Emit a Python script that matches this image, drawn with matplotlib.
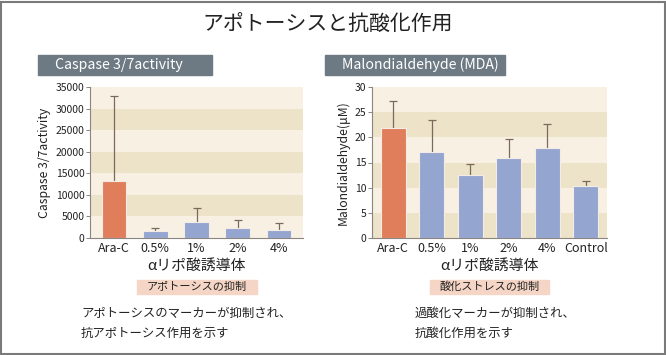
import matplotlib
matplotlib.use("Agg")
import matplotlib.pyplot as plt
from matplotlib.patches import Rectangle

plt.rcParams['font.family'] = ['Noto Sans CJK JP', 'DejaVu Sans']

# data
caspase_labels = ["Ara-C", "0.5%", "1%", "2%", "4%"]
caspase_values = [13200, 1700, 3700, 2400, 1900]
caspase_err = [19600, 600, 3200, 1700, 1500]

mda_labels = ["Ara-C", "0.5%", "1%", "2%", "4%", "Control"]
mda_values = [21.8, 17.0, 12.6, 15.8, 17.8, 10.3]
mda_err = [5.5, 6.5, 2.2, 3.8, 4.9, 1.1]

ORANGE = '#e07e5c'
BLUE = '#94a6d0'
LIGHT = '#f8f1e3'
DARK = '#ede3c8'
ERR = '#7b6a5c'
AXC = '#8a8580'
TXT = '#222222'

W, H = 666, 355
fig = plt.figure(figsize=(W / 100, H / 100), dpi=100)


def px_axes(x0, y0, x1, y1):
    """axes from pixel box (top-left origin)"""
    return fig.add_axes([x0 / W, 1 - y1 / H, (x1 - x0) / W, (y1 - y0) / H])


def draw_bars(ax, labels, values, errs, ymax, step, xlim, width, dark_first):
    n = len(values)
    # striped background
    k = 0
    y = 0
    while y < ymax:
        dark = (k % 2 == 0) == dark_first
        ax.axhspan(y, y + step, color=DARK if dark else LIGHT, lw=0, zorder=0)
        y += step
        k += 1
    colors = [ORANGE] + [BLUE] * (n - 1)
    x = list(range(n))
    ax.bar(x, values, width=width, color=colors, edgecolor='#f4ece4',
           linewidth=0.8, zorder=2)
    # upper error bars only, cap on top
    ax.errorbar(x, values, yerr=[[0] * n, errs], fmt='none', ecolor=ERR,
                elinewidth=0.9, capsize=0, zorder=1.5)
    tops = [v + e for v, e in zip(values, errs)]
    ax.plot(x, tops, ls='none', marker='_', ms=6, mew=0.9, color=ERR,
            zorder=3, clip_on=False)
    ax.set_xlim(*xlim)
    ax.set_ylim(0, ymax)
    ax.set_xticks(x)
    ax.set_xticklabels(labels, fontsize=9, color=TXT)
    ax.tick_params(axis='x', length=0, pad=3)
    ax.tick_params(axis='y', labelsize=7.5, length=3, width=0.7, color=AXC,
                   pad=1, labelcolor=TXT)
    for s in ['top', 'right']:
        ax.spines[s].set_visible(False)
    for s in ['left', 'bottom']:
        ax.spines[s].set_color(AXC)
        ax.spines[s].set_linewidth(0.8)
    ax.set_xlabel('αリポ酸誘導体', fontsize=10.7, labelpad=3, color=TXT)


ax1 = px_axes(90, 87, 303, 238)
draw_bars(ax1, caspase_labels, caspase_values, caspase_err, 35000, 5000,
          (-0.58, 4.58), 0.6, False)
ax1.set_yticks(range(0, 35001, 5000))
ax1.set_ylabel('Caspase 3/7activity', fontsize=8.8, labelpad=3, color=TXT)

ax2 = px_axes(372, 87, 607, 238)
draw_bars(ax2, mda_labels, mda_values, mda_err, 30, 5,
          (-0.55, 5.55), 0.64, True)
ax2.set_yticks(range(0, 31, 5))
ax2.set_ylabel('Malondialdehyde(μM)', fontsize=8.8, labelpad=4, color=TXT)

# frame around the whole figure
fig.patches.append(Rectangle((0.5 / W, 1.5 / H), (W - 1.5) / W, (H - 3) / H,
                             transform=fig.transFigure, fill=False,
                             edgecolor='#7a7a7a', linewidth=1.5))

fig.text(328 / W, 1 - 25 / H, 'アポトーシスと抗酸化作用', fontsize=15,
         ha='center', va='center', color=TXT)


def header(x0, x1, text):
    fig.patches.append(Rectangle((x0 / W, 1 - 75 / H), (x1 - x0) / W, 20 / H,
                                 transform=fig.transFigure, color='#6d7a83'))
    fig.text((x0 + 17) / W, 1 - 65 / H, text, fontsize=10.2, color='white',
             ha='left', va='center')


header(38, 212, 'Caspase 3/7activity')
header(325, 505, 'Malondialdehyde (MDA)')


def pink(x0, x1, text):
    fig.patches.append(Rectangle((x0 / W, 1 - 294 / H), (x1 - x0) / W, 14 / H,
                                 transform=fig.transFigure, color='#f5d6c6'))
    fig.text((x0 + x1) / 2 / W, 1 - 287 / H, text, fontsize=8,
             ha='center', va='center', color=TXT)


pink(137, 257, 'アポトーシスの抑制')
pink(430, 549, '酸化ストレスの抑制')

fig.text(81 / W, 1 - 313 / H, 'アポトーシスのマーカーが抑制され、', fontsize=8.9,
         ha='left', va='center', color=TXT)
fig.text(81 / W, 1 - 333 / H, '抗アポトーシス作用を示す', fontsize=8.9,
         ha='left', va='center', color=TXT)
fig.text(415 / W, 1 - 313 / H, '過酸化マーカーが抑制され、', fontsize=8.9,
         ha='left', va='center', color=TXT)
fig.text(415 / W, 1 - 333 / H, '抗酸化作用を示す', fontsize=8.9,
         ha='left', va='center', color=TXT)

fig.savefig('out.png', dpi=100, facecolor='white')
